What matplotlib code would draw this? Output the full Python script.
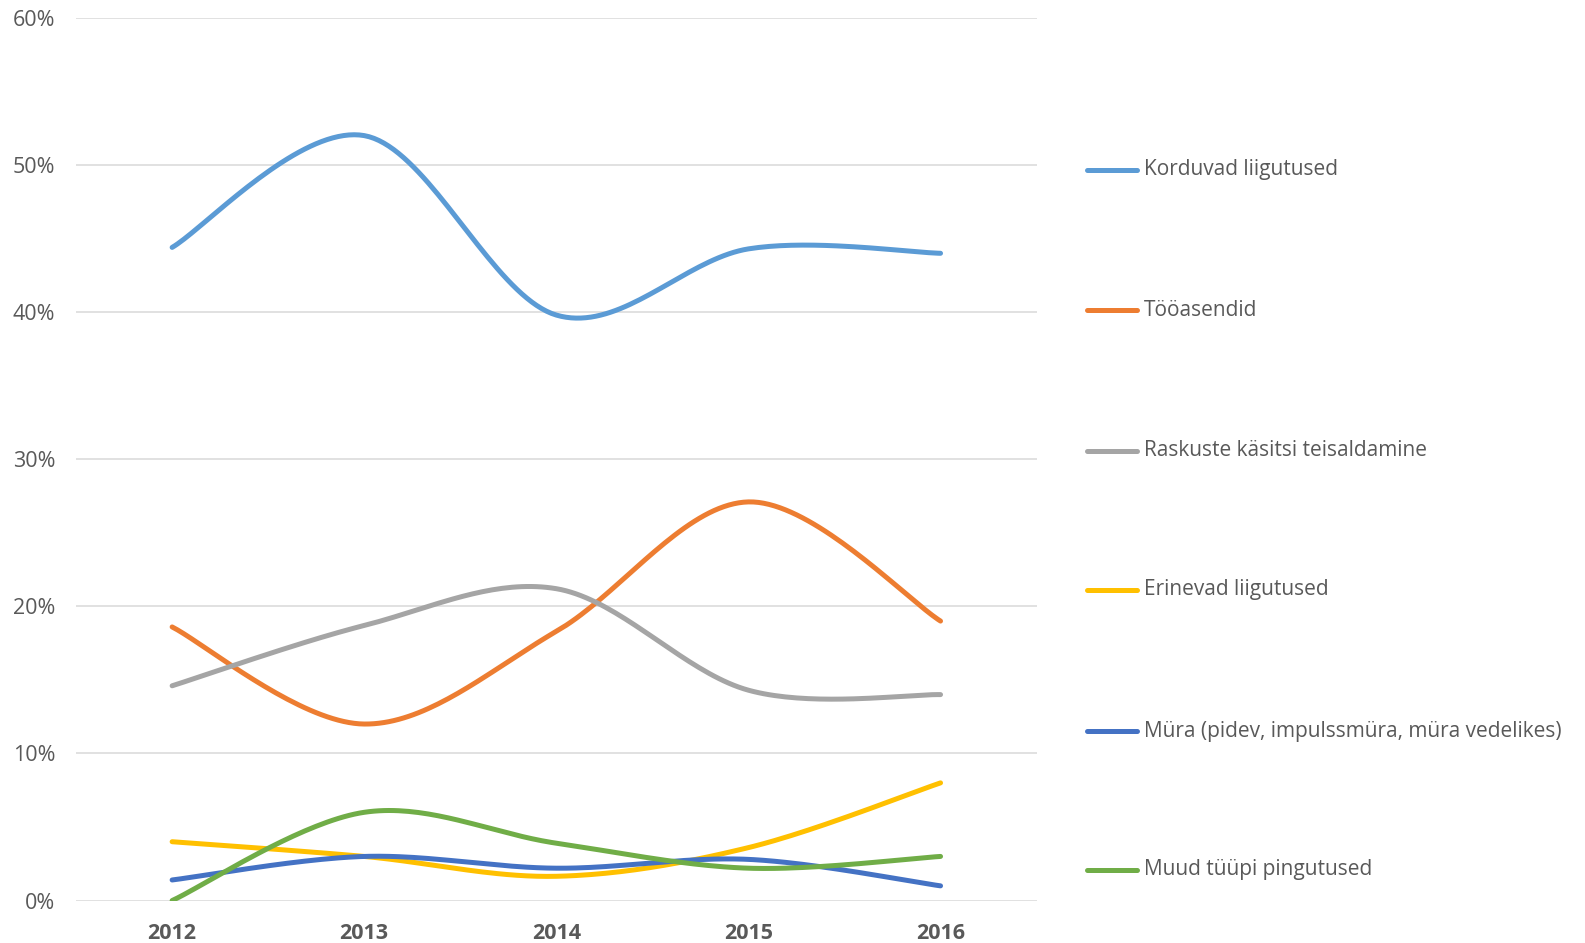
import numpy as np
import matplotlib
matplotlib.use("Agg")
import matplotlib.pyplot as plt
from matplotlib.lines import Line2D

years = ["2012", "2013", "2014", "2015", "2016"]
korduvad = [44.4, 52.0, 39.8, 44.3, 44.0]
tooasendid = [18.6, 12.0, 18.3, 27.1, 19.0]
raskuste = [14.6, 18.7, 21.2, 14.3, 14.0]
erinevad = [4.0, 3.0, 1.65, 3.6, 8.0]
mura = [1.4, 3.0, 2.2, 2.8, 1.0]
muud = [0.0, 6.0, 3.9, 2.2, 3.0]

labels = ["Korduvad liigutused", "Tööasendid", "Raskuste käsitsi teisaldamine",
          "Erinevad liigutused", "Müra (pidev, impulssmüra, müra vedelikes)",
          "Muud tüüpi pingutused"]
series = [korduvad, tooasendid, raskuste, erinevad, mura, muud]
colors = ["#5B9BD5", "#ED7D31", "#A5A5A5", "#FFC000", "#4472C4", "#70AD47"]

FONT = ["Open Sans", "DejaVu Sans"]
TXT = "#595959"


def smooth(x, y, n=40):
    x = np.asarray(x, float)
    y = np.asarray(y, float)
    xs, ys = [], []
    for i in range(len(x) - 1):
        p0 = np.array([x[max(i - 1, 0)], y[max(i - 1, 0)]])
        p1 = np.array([x[i], y[i]])
        p2 = np.array([x[i + 1], y[i + 1]])
        p3 = np.array([x[min(i + 2, len(x) - 1)], y[min(i + 2, len(x) - 1)]])
        c1 = p1 + (p2 - p0) / 6.0
        c2 = p2 - (p3 - p1) / 6.0
        t = np.linspace(0, 1, n)[:, None]
        b = ((1 - t) ** 3) * p1 + 3 * ((1 - t) ** 2) * t * c1 + 3 * (1 - t) * t ** 2 * c2 + t ** 3 * p2
        xs.append(b[:, 0])
        ys.append(b[:, 1])
    return np.concatenate(xs), np.concatenate(ys)


fig = plt.figure(figsize=(15.85, 9.43), dpi=100)
ax = fig.add_axes([0.048, 0.045, 0.606, 0.936])

xpos = np.arange(len(years))
for vals, c in zip(series, colors):
    sx, sy = smooth(xpos, vals)
    ax.plot(sx, sy, color=c, lw=3.6, solid_capstyle="round", zorder=3)

ax.set_xlim(-0.5, len(years) - 0.5)
ax.set_ylim(0, 60)
ax.set_yticks(np.arange(0, 61, 10))
ax.set_yticklabels([f"{v}%" for v in range(0, 61, 10)], fontfamily=FONT, fontsize=15.5, color=TXT)
ax.set_xticks(xpos)
ax.set_xticklabels(years, fontfamily=FONT, fontsize=15.5, fontweight="bold", color=TXT)
ax.grid(axis="y", color="#D9D9D9", lw=1.1, zorder=0)
for s in ax.spines.values():
    s.set_visible(False)
ax.tick_params(axis="both", length=0)
ax.tick_params(axis="y", pad=15)
ax.tick_params(axis="x", pad=16)

# legend
leg_y = [170, 310, 451, 590, 731, 870]
H = 943.0
for yy, lab, c in zip(leg_y, labels, colors):
    fy = 1 - yy / H
    fig.add_artist(Line2D([1087 / 1585, 1137 / 1585], [fy, fy], color=c, lw=3.6,
                          solid_capstyle="round", transform=fig.transFigure))
    fig.text(1144 / 1585, fy, lab, fontfamily=FONT, fontsize=15, color=TXT,
             va="center", ha="left")

fig.savefig("out.png", dpi=100)
